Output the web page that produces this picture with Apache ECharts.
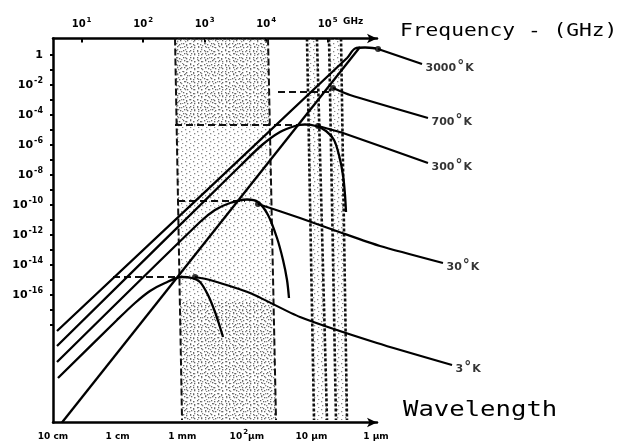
<!DOCTYPE html>
<html>
<head>
<meta charset="utf-8">
<script src="https://cdn.jsdelivr.net/npm/echarts@6/dist/echarts.min.js"></script>
<style>
  html, body { margin: 0; background: #fff; }
  #chart { width: 623px; height: 446px; }
</style>
</head>
<body>
<div id="chart"></div>
<script>
// x = log10(frequency / GHz), y = log10(intensity)
var freqTicks = [1, 2, 3, 4, 5];
var waveTicks = [1, 2, 3, 4, 5, 6];
var waveLabels = ['10 cm', '1 cm', '1 mm', '10^2µm', '10 µm', '1 µm'];
var yLabelTicks = [0, -2, -4, -6, -8, -10, -12, -14, -16];
var yTicks = [0, -1, -2, -3, -4, -5, -6, -7, -8, -9, -10, -11, -12, -13, -14, -15, -16, -17, -18];

// black body curves
var curve3000 = [[0.600, -18.4], [5.316, -0.2], [5.446, 0.433], [5.608, 0.5], [5.787, 0.433]];
var curve300 = [[0.600, -19.4], [3.576, -7.4], [3.933, -6.0], [4.226, -5.133], [4.470, -4.733], [4.632, -4.633],
  [4.811, -4.733], [4.974, -5.067], [5.104, -5.667], [5.185, -6.667], [5.250, -8.0], [5.283, -9.333], [5.299, -10.467]];
var curve30 = [[0.600, -20.467], [2.925, -11.133], [3.169, -10.333], [3.413, -9.867], [3.690, -9.633], [3.868, -9.8],
  [4.031, -10.667], [4.177, -12.2], [4.275, -13.667], [4.340, -15.0], [4.372, -16.2]];
var curve3 = [[0.616, -21.533], [1.576, -17.667], [1.868, -16.533], [2.112, -15.733], [2.356, -15.2], [2.633, -14.8],
  [2.795, -14.867], [2.925, -15.133], [3.055, -16.0], [3.169, -17.133], [3.250, -18.133], [3.299, -18.8]];
var peakLine = [[0.681, -24.5], [5.527, 0.533]];

// dashed levels of the peaks
var level3 = [[1.511, -14.8], [2.600, -14.8]];
var level30 = [[2.568, -9.733], [3.657, -9.733]];
var level300 = [[2.519, -4.667], [4.519, -4.667]];
var level700 = [[4.193, -2.467], [5.071, -2.467]];

// leader lines to the temperature labels
var temps = ['3000', '700', '300', '30', '3'];
var lead3000 = [[5.820, 0.4], [6.535, -0.6]];
var lead700 = [[5.088, -2.2], [5.364, -2.667], [6.632, -4.2]];
var lead300 = [[4.844, -4.733], [5.250, -5.2], [6.632, -7.2]];
var lead30 = [[3.868, -9.933], [4.551, -10.867], [5.234, -11.867], [5.852, -12.733], [6.876, -13.867]];
var lead3 = [[2.844, -14.8], [3.088, -15.0], [3.738, -15.867], [4.551, -17.467], [5.803, -19.2], [7.023, -20.667]];

// shaded windows
var bandA = [[2.519, 1.1], [4.031, 1.1], [4.161, -24.333], [2.633, -24.333]];
var bandB1 = [[4.665, 1.1], [4.827, 1.1], [4.990, -24.333], [4.779, -24.333]];
var bandB2 = [[5.023, 1.1], [5.218, 1.1], [5.315, -24.333], [5.136, -24.333]];
var bandATop = [[2.519, 1.1], [4.031, 1.1], [4.060, -4.667], [2.545, -4.667]];
var bandALow = [[2.597, -16.333], [4.120, -16.333], [4.161, -24.333], [2.633, -24.333]];

function dots(size, pts, color) {
  var c = document.createElement('canvas');
  c.width = size; c.height = size;
  var g = c.getContext('2d');
  g.fillStyle = color;
  pts.forEach(function (p) { g.fillRect(p[0], p[1], 1.3, 1.3); });
  return c;
}
var lightDots = dots(8, [[1, 1], [5, 3], [2, 5], [6, 7]], '#888');
var denseDots = dots(7, [[1, 1], [4, 2], [2, 4], [5, 5]], '#666');

var shades = [bandA, bandB1, bandB2, bandATop, bandALow];
var shadeFill = [lightDots, lightDots, lightDots, denseDots, denseDots];
var leads = [lead3000, lead700, lead300, lead30, lead3];

function sup(base, e) {
  return '{n|' + base + '}{s|' + e + '}';
}

var chart = echarts.init(document.getElementById('chart'));

var series = [];

series.push({
  type: 'custom',
  silent: true,
  z: 1,
  renderItem: function (params, api) {
    var pts = shades[params.dataIndex].map(function (p) { return api.coord(p); });
    return {
      type: 'polygon',
      shape: { points: pts },
      style: { fill: { image: shadeFill[params.dataIndex], repeat: 'repeat' } }
    };
  },
  data: shades.map(function (s) { return s[0]; })
});

[bandA, bandB1, bandB2].forEach(function (b, i) {
  [[b[0], b[3]], [b[1], b[2]]].forEach(function (edge) {
    series.push({
      type: 'line', data: edge, symbol: 'none', z: 2,
      lineStyle: { color: '#111', width: i === 0 ? 2 : 2.6, type: i === 0 ? [7, 3] : [3, 2] }
    });
  });
});

[level3, level30, level300, level700].forEach(function (l) {
  series.push({
    type: 'line', data: l, symbol: 'none', z: 3,
    lineStyle: { color: '#111', width: 2, type: [7, 4] }
  });
});

[curve3000, curve300, curve30, curve3, peakLine].forEach(function (c) {
  series.push({
    type: 'line', data: c, symbol: 'none', smooth: 0.3, z: 4,
    lineStyle: { color: '#000', width: 2.3 }
  });
});

// leaders run past the plot edge, so draw them unclipped
series.push({
  type: 'custom',
  silent: true,
  clip: false,
  z: 4,
  renderItem: function (params, api) {
    var pts = leads[params.dataIndex].map(function (p) { return api.coord(p); });
    return {
      type: 'polyline',
      shape: { points: pts, smooth: 0.2 },
      style: { stroke: '#000', lineWidth: 2.2, fill: null }
    };
  },
  data: leads.map(function (l) { return l[0]; })
});

// blobs where the leaders start
series.push({
  type: 'scatter', symbol: 'circle', symbolSize: 6, z: 5, clip: false,
  itemStyle: { color: '#000' },
  data: leads.map(function (l) { return l[0]; })
});

// temperature labels
series.push({
  type: 'scatter', symbolSize: 1, z: 5, clip: false,
  itemStyle: { color: 'rgba(0,0,0,0)' },
  data: leads.map(function (l) { return l[l.length - 1]; }),
  label: {
    show: true, position: 'right', distance: 3, offset: [0, 4], color: '#000',
    formatter: function (p) { return '{n|' + temps[p.dataIndex] + '}{d|°}{n|K}'; },
    rich: {
      n: { fontFamily: 'DejaVu Sans', fontWeight: 'bold', fontSize: 11, color: '#000' },
      d: { fontFamily: 'DejaVu Sans', fontWeight: 'bold', fontSize: 14, color: '#000', padding: [0, 1, 4, 1] }
    }
  }
});

var supRich = function (big, small) {
  return {
    n: { fontFamily: 'DejaVu Sans', fontWeight: 'bold', fontSize: big, lineHeight: 16, color: '#000' },
    s: { fontFamily: 'DejaVu Sans', fontWeight: 'bold', fontSize: small, color: '#000', padding: [0, 0, 8, 1] }
  };
};

chart.setOption({
  animation: false,
  backgroundColor: '#fff',
  grid: { left: 53, right: 246, top: 38.5, bottom: 23.5 },
  xAxis: [{
    type: 'value', position: 'top', min: 0.535, max: 5.803,
    splitLine: { show: false },
    axisLine: { onZero: false, lineStyle: { color: '#000', width: 2.5 }, symbol: ['none', 'arrow'], symbolSize: [7, 10] },
    axisTick: { customValues: freqTicks, inside: true, length: 4, lineStyle: { color: '#000', width: 2 } },
    axisLabel: {
      customValues: freqTicks, margin: 6,
      formatter: function (v) { return sup('10', v); },
      rich: supRich(10, 7)
    }
  }, {
    type: 'value', position: 'bottom', min: 1, max: 6.015,
    splitLine: { show: false },
    axisLine: { onZero: false, lineStyle: { color: '#000', width: 2.5 }, symbol: ['none', 'arrow'], symbolSize: [7, 10] },
    axisTick: { show: false },
    axisLabel: {
      customValues: waveTicks, margin: 6,
      formatter: function (v) {
        var t = waveLabels[waveTicks.indexOf(v)];
        if (t.indexOf('^') >= 0) {
          var parts = t.split('^');
          return '{n|' + parts[0] + '}{s|' + parts[1].charAt(0) + '}{n|' + parts[1].slice(1) + '}';
        }
        return '{n|' + t + '}';
      },
      rich: supRich(9, 7)
    }
  }],
  yAxis: {
    type: 'value', min: -24.5, max: 1.1,
    splitLine: { show: false },
    axisLine: { onZero: false, lineStyle: { color: '#000', width: 2.5 } },
    axisTick: { customValues: yTicks, length: 3, lineStyle: { color: '#000', width: 2 } },
    axisLabel: {
      customValues: yLabelTicks, margin: 10,
      formatter: function (v) { return v === 0 ? '{n|1}' : sup('10', v); },
      rich: supRich(11, 8)
    }
  },
  graphic: [{
    type: 'text', x: 400, y: 31, scaleX: 1.18,
    style: { text: 'Frequency - (GHz)', fontFamily: 'DejaVu Sans Mono', fontSize: 18, fill: '#000', verticalAlign: 'middle' }
  }, {
    type: 'text', x: 343, y: 22,
    style: { text: 'GHz', fontFamily: 'DejaVu Sans', fontWeight: 'bold', fontSize: 9, fill: '#000', verticalAlign: 'middle' }
  }, {
    type: 'text', x: 403, y: 411, scaleX: 1.22,
    style: { text: 'Wavelength', fontFamily: 'DejaVu Sans Mono', fontSize: 21, fill: '#000', verticalAlign: 'middle' }
  }],
  series: series
});
</script>
</body>
</html>
